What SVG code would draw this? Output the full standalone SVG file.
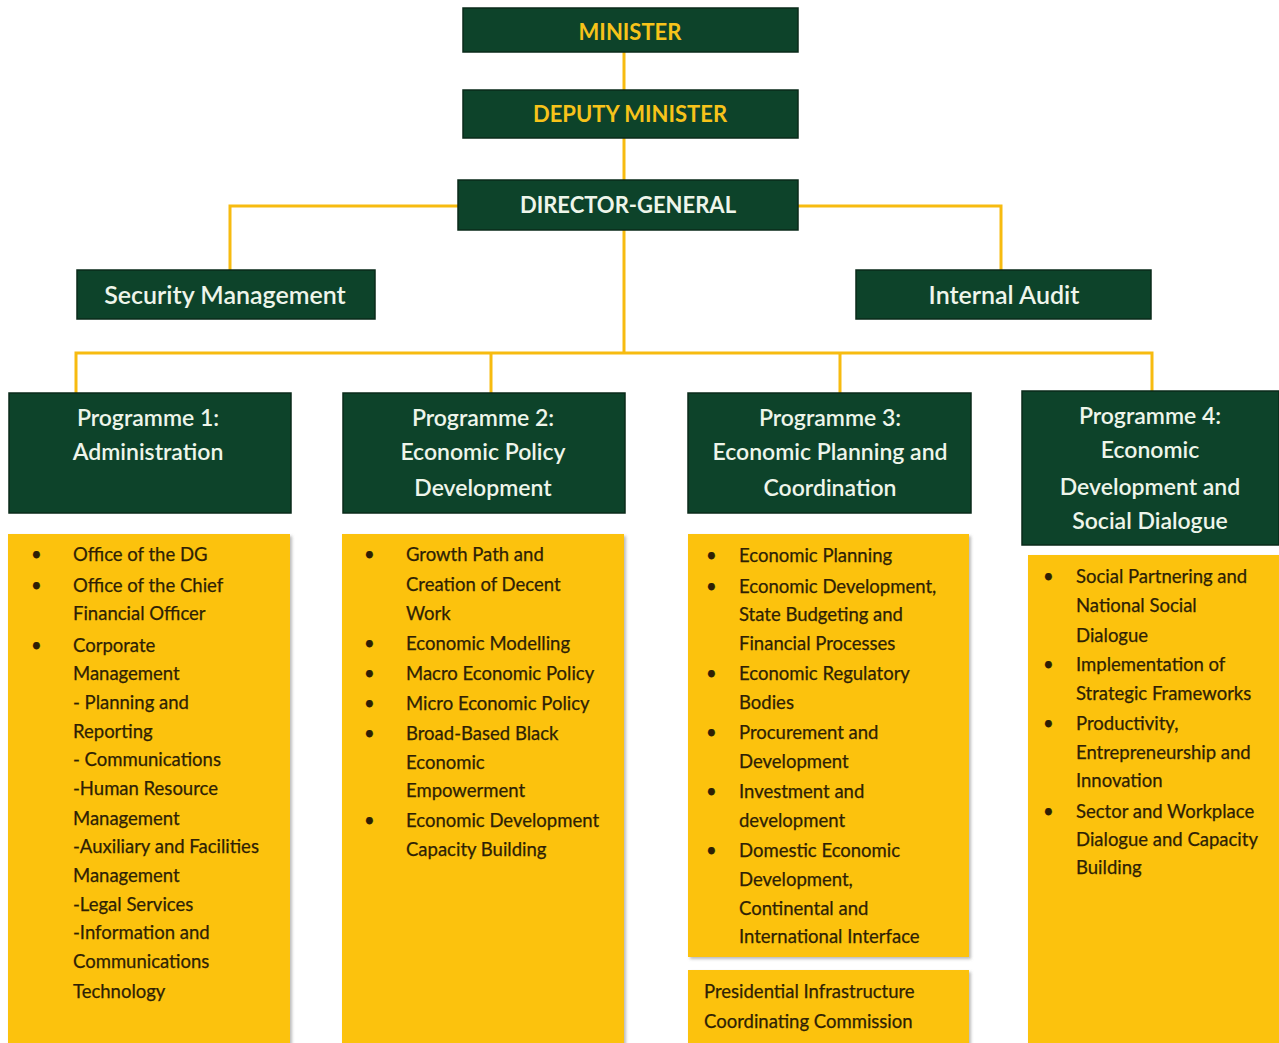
<svg xmlns="http://www.w3.org/2000/svg" width="1279" height="1043" viewBox="0 0 1279 1043">
<style>
.g{fill:#0d432a;stroke:#0a2a1a;stroke-width:1.5}
.y{fill:#fcc20c;filter:url(#sh)}
.ht{font-family:Lato,"Open Sans",sans-serif;font-weight:bold;fill:#f7c31a;text-anchor:middle;font-size:22px}
.wt{font-family:Lato,"Open Sans",sans-serif;fill:#eef5ea;text-anchor:middle;font-size:23px;font-weight:600}
.big{font-size:25px}
.bt{font-family:Lato,"Open Sans",sans-serif;fill:#2e1f05;font-size:18.5px;stroke:#2e1f05;stroke-width:0.25}
.c{stroke:#f7bb10;stroke-width:3;fill:none}
</style>
<defs>
<filter id="sh" x="-5%" y="-5%" width="110%" height="110%">
<feDropShadow dx="2" dy="2" stdDeviation="1.5" flood-color="#777" flood-opacity="0.5"/>
</filter>
</defs>
<rect width="1279" height="1043" fill="#ffffff"/>
<g id="connectors">
<path class="c" d="M624 52V90M624 138V180M624 230V353"/>
<path class="c" d="M458 206H230V270M798 206H1001V270"/>
<path class="c" d="M76 393V353H1152V391M491 353V393M840 353V393"/>
</g>
<g id="minister"><rect class="g" x="463" y="8" width="335" height="44"/><text class="ht" x="630" y="40">MINISTER</text></g>
<g id="deputy"><rect class="g" x="463" y="90" width="335" height="48"/><text class="ht" x="630" y="122">DEPUTY MINISTER</text></g>
<g id="dg"><rect class="g" x="458" y="180" width="340" height="50"/><text class="ht" x="628" y="213" style="fill:#eef5ea">DIRECTOR-GENERAL</text></g>
<g id="security"><rect class="g" x="77" y="270" width="298" height="49"/><text class="wt big" x="225" y="304">Security Management</text></g>
<g id="audit"><rect class="g" x="856" y="270" width="295" height="49"/><text class="wt big" x="1004" y="304">Internal Audit</text></g>
<g id="prog1"><rect class="g" x="9" y="393" width="282" height="120"/><text class="wt" x="148" y="426">Programme 1:</text><text class="wt" x="148" y="460">Administration</text></g>
<g id="prog2"><rect class="g" x="343" y="393" width="282" height="120"/><text class="wt" x="483" y="426">Programme 2:</text><text class="wt" x="483" y="460">Economic Policy</text><text class="wt" x="483" y="496">Development</text></g>
<g id="prog3"><rect class="g" x="688" y="393" width="283" height="120"/><text class="wt" x="830" y="426">Programme 3:</text><text class="wt" x="830" y="460">Economic Planning and</text><text class="wt" x="830" y="496">Coordination</text></g>
<g id="prog4"><rect class="g" x="1022" y="391" width="257" height="154"/><text class="wt" x="1150" y="424">Programme 4:</text><text class="wt" x="1150" y="458">Economic</text><text class="wt" x="1150" y="495">Development and</text><text class="wt" x="1150" y="529">Social Dialogue</text></g>
<g id="list1"><rect class="y" x="8" y="534" width="282" height="520"/>
<g class="bt"><text x="31" y="561">•</text><text x="31" y="592">•</text><text x="31" y="652">•</text>
<text x="73" y="561">Office of the DG</text><text x="73" y="592">Office of the Chief</text><text x="73" y="620">Financial Officer</text><text x="73" y="652">Corporate</text><text x="73" y="680">Management</text><text x="73" y="709">- Planning and</text><text x="73" y="738">Reporting</text><text x="73" y="766">- Communications</text><text x="73" y="795">-Human Resource</text><text x="73" y="825">Management</text><text x="73" y="853">-Auxiliary and Facilities</text><text x="73" y="882">Management</text><text x="73" y="911">-Legal Services</text><text x="73" y="939">-Information and</text><text x="73" y="968">Communications</text><text x="73" y="998">Technology</text></g></g>
<g id="list2"><rect class="y" x="342" y="534" width="282" height="520"/>
<g class="bt"><text x="364" y="561">•</text><text x="364" y="650">•</text><text x="364" y="680">•</text><text x="364" y="710">•</text><text x="364" y="740">•</text><text x="364" y="827">•</text>
<text x="406" y="561">Growth Path and</text><text x="406" y="591">Creation of Decent</text><text x="406" y="620">Work</text><text x="406" y="650">Economic Modelling</text><text x="406" y="680">Macro Economic Policy</text><text x="406" y="710">Micro Economic Policy</text><text x="406" y="740">Broad-Based Black</text><text x="406" y="769">Economic</text><text x="406" y="797">Empowerment</text><text x="406" y="827">Economic Development</text><text x="406" y="856">Capacity Building</text></g></g>
<g id="list3"><rect class="y" x="688" y="534" width="281" height="423"/>
<g class="bt"><text x="706" y="562">•</text><text x="706" y="593">•</text><text x="706" y="680">•</text><text x="706" y="739">•</text><text x="706" y="798">•</text><text x="706" y="857">•</text>
<text x="739" y="562">Economic Planning</text><text x="739" y="593">Economic Development,</text><text x="739" y="621">State Budgeting and</text><text x="739" y="650">Financial Processes</text><text x="739" y="680">Economic Regulatory</text><text x="739" y="709">Bodies</text><text x="739" y="739">Procurement and</text><text x="739" y="768">Development</text><text x="739" y="798">Investment and</text><text x="739" y="827">development</text><text x="739" y="857">Domestic Economic</text><text x="739" y="886">Development,</text><text x="739" y="915">Continental and</text><text x="739" y="943">International Interface</text></g></g>
<g id="picc"><rect class="y" x="688" y="970" width="281" height="80"/>
<g class="bt"><text x="704" y="998">Presidential Infrastructure</text><text x="704" y="1028">Coordinating Commission</text></g></g>
<g id="list4"><rect class="y" x="1028" y="555" width="260" height="500"/>
<g class="bt"><text x="1043" y="583">•</text><text x="1043" y="671">•</text><text x="1043" y="730">•</text><text x="1043" y="818">•</text>
<text x="1076" y="583">Social Partnering and</text><text x="1076" y="612">National Social</text><text x="1076" y="642">Dialogue</text><text x="1076" y="671">Implementation of</text><text x="1076" y="700">Strategic Frameworks</text><text x="1076" y="730">Productivity,</text><text x="1076" y="759">Entrepreneurship and</text><text x="1076" y="787">Innovation</text><text x="1076" y="818">Sector and Workplace</text><text x="1076" y="846">Dialogue and Capacity</text><text x="1076" y="874">Building</text></g></g>
</svg>
